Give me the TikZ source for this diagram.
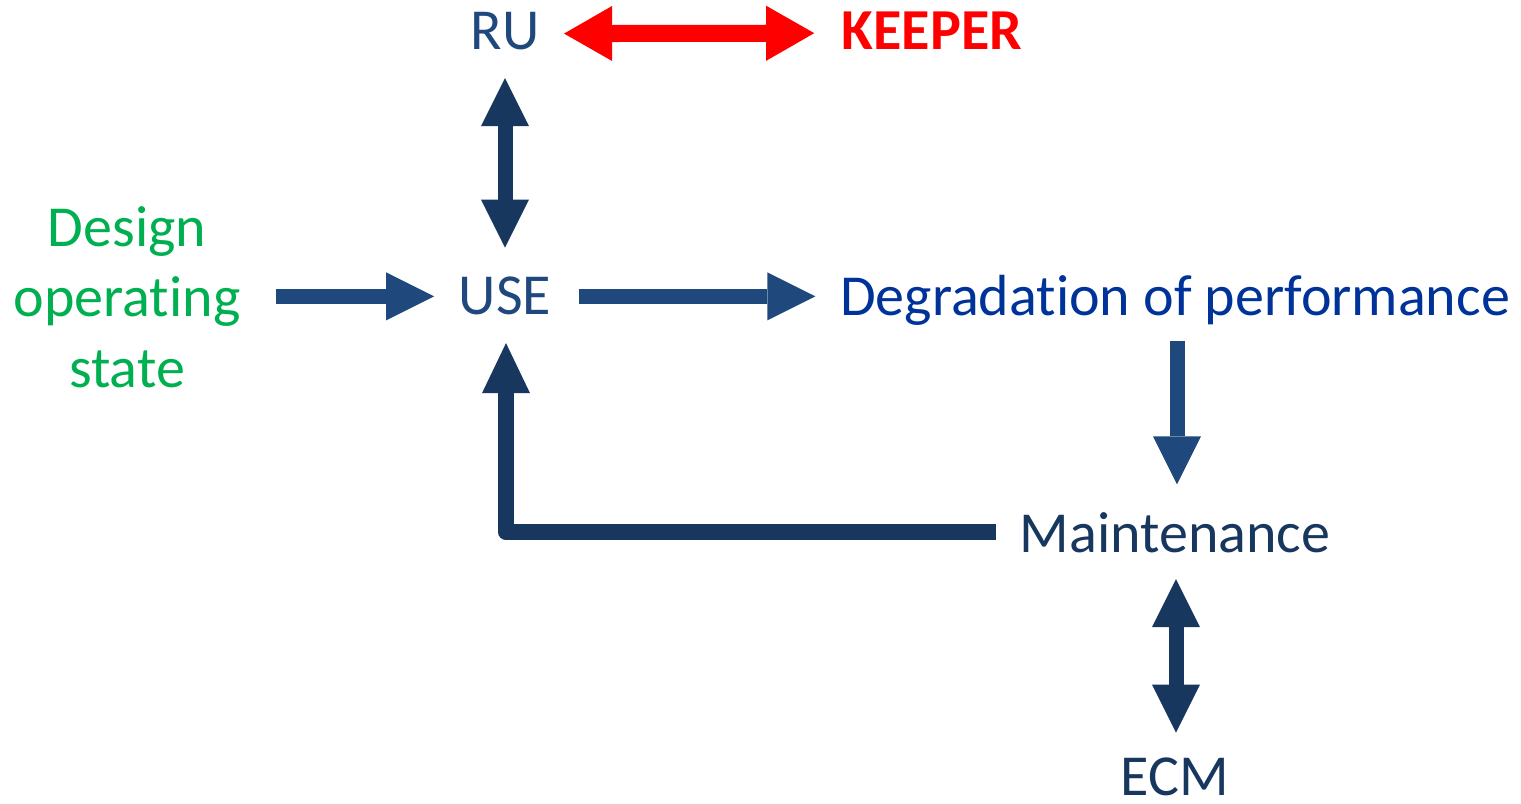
\documentclass[tikz,border=0pt]{standalone}
\usepackage{fontspec}
\setmainfont{Carlito}[Ligatures={NoCommon,NoContextual}]
\usetikzlibrary{arrows.meta,calc}
\definecolor{blueA}{HTML}{1F497D}
\definecolor{blueD}{HTML}{003399}
\definecolor{navy}{HTML}{17375E}
\definecolor{greenT}{HTML}{00B050}
\definecolor{redA}{HTML}{FF0000}
\tikzset{
  lbl/.style={inner sep=0pt, anchor=base, font=\fontsize{16.5}{20}\selectfont},
  fwd/.style={draw=blueA, line width=0.15cm, -{Triangle[length=0.48cm,width=0.48cm,line width=0pt]}},
  dbl/.style={draw=navy, line width=0.15cm, {Triangle[length=0.48cm,width=0.48cm,line width=0pt]}-{Triangle[length=0.48cm,width=0.48cm,line width=0pt]}},
  back/.style={draw=navy, line width=0.16cm, line join=round, -{Triangle[length=0.5cm,width=0.48cm,line width=0pt]}},
  redarr/.style={draw=redA, line width=0.17cm, {Triangle[length=0.48cm,width=0.55cm,line width=0pt]}-{Triangle[length=0.48cm,width=0.55cm,line width=0pt]}}
}
\begin{document}
\begin{tikzpicture}[x=0.01cm,y=-0.01cm]
\useasboundingbox (0,0) rectangle (1521,804);
\node[lbl, text=blueA] (RU) at (505,50) {RU};
\node[lbl, text=redA, font=\fontsize{16.5}{20}\selectfont\bfseries] (KEEPER) at (932,50) {KEEPER};
\node[lbl, text=blueA] (USE) at (505,315) {USE};
\node[inner sep=0pt, anchor=center, align=center, text=greenT, font=\fontsize{16.5}{20}\selectfont] (Design) at (127,297) {Design\\operating\\state};
\node[lbl, text=blueD] (Deg) at (1175,316) {Degradation of performance};
\node[lbl, text=navy] (Maint) at (1175,553) {Maintenance};
\node[lbl, text=navy] (ECM) at (1175,796) {ECM};

\draw[redarr] ($(RU.east)+(24,2)$) -- ($(KEEPER.west)+(-27,2)$);
\draw[dbl] ($(RU.south)+(0,27)$) -- ($(USE.north)+(0,-29)$);
\draw[fwd] ($(Design.east |- USE.west)+(35,0)$) -- ($(USE.west)+(-24,0)$);
\draw[fwd] ($(USE.east)+(27,0)$) -- ($(Deg.west |- USE.west)+(-24,0)$);
\draw[fwd] ($(Maint.north |- Deg.south)+(2,14)$) -- ($(Maint.north)+(2,-28)$);
\draw[dbl] ($(Maint.south)+(1,25)$) -- ($(ECM.north)+(1,-25)$);
\draw[back] ($(Maint.west)+(-23,-1)$) -| ($(USE.south)+(1,27)$);
\end{tikzpicture}
\end{document}
